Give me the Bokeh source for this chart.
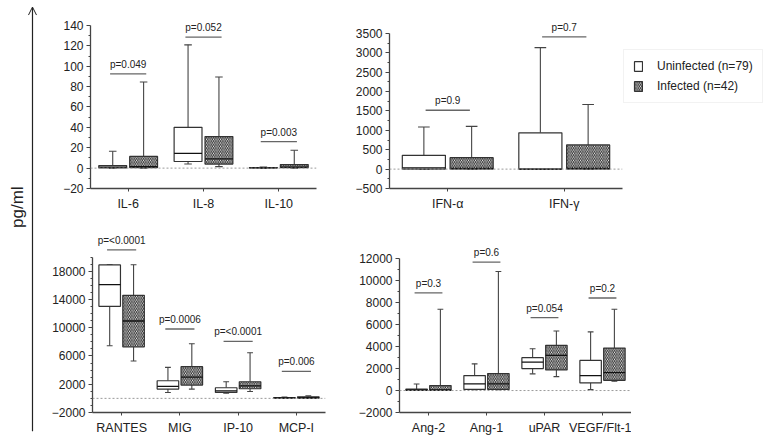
import numpy as np
from bokeh.plotting import figure
from bokeh.models import (FactorRange, FixedTicker, ColumnDataSource, Span, Legend,
                          LegendItem, Arrow, OpenHead, Label, Range1d)
from bokeh.transform import dodge
from bokeh.layouts import row, column
from bokeh.embed import file_html
from bokeh.resources import INLINE
from bokeh.core.properties import value

# ---------------- data (low whisker, Q1, median, Q3, high whisker) ----------------
tl_cats = ["IL-6", "IL-8", "IL-10"]
tl_un_low = [0, 4, 0]
tl_un_q1 = [0.3, 6.5, 0.1]
tl_un_med = [1, 14.5, 0.3]
tl_un_q3 = [2.5, 40, 0.6]
tl_un_high = [16.5, 121, 1]
tl_in_low = [0, 1.5, 0]
tl_in_q1 = [0.5, 4, 0.5]
tl_in_med = [1.5, 9, 1]
tl_in_q3 = [11.5, 31, 3.5]
tl_in_high = [84.5, 89.5, 17.5]
tl_p_labels = ["p=0.049", "p=0.052", "p=0.003"]
tl_p_y = [92.5, 128.5, 26]
tl_ticks = [-20, 0, 20, 40, 60, 80, 100, 120, 140]

tr_cats = ["IFN-\u03b1", "IFN-\u03b3"]
tr_un_low = [0, 0]
tr_un_q1 = [0, 0]
tr_un_med = [30, 0]
tr_un_q3 = [355, 937]
tr_un_high = [1085, 3134]
tr_in_low = [0, 0]
tr_in_q1 = [0, 0]
tr_in_med = [20, 20]
tr_in_q3 = [295, 625]
tr_in_high = [1102, 1667]
tr_p_labels = ["p=0.9", "p=0.7"]
tr_p_y = [1519, 3411]
tr_ticks = [-500, 0, 500, 1000, 1500, 2000, 2500, 3000, 3500]

bl_cats = ["RANTES", "MIG", "IP-10", "MCP-I"]
bl_un_low = [7450, 840, 740, 0]
bl_un_q1 = [13030, 1310, 840, 20]
bl_un_med = [16100, 1690, 1070, 60]
bl_un_q3 = [18890, 2490, 1500, 120]
bl_un_high = [18900, 4380, 2350, 200]
bl_in_low = [5280, 1310, 970, 0]
bl_in_q1 = [7300, 1880, 1360, 30]
bl_in_med = [10950, 3010, 1780, 90]
bl_in_q3 = [14590, 4480, 2350, 220]
bl_in_high = [18900, 7740, 6460, 350]
bl_p_labels = ["p=<0.0001", "p=0.0006", "p=<0.0001", "p=0.006"]
bl_p_y = [21020, 9820, 8070, 3820]
bl_ticks = [-2000, 2000, 6000, 10000, 14000, 18000]

br_cats = ["Ang-2", "Ang-1", "uPAR", "VEGF/Flt-1"]
br_un_low = [0, 80, 1520, 80]
br_un_q1 = [20, 100, 2000, 690]
br_un_med = [60, 600, 2590, 1360]
br_un_q3 = [140, 1360, 2990, 2740]
br_un_high = [600, 2430, 3810, 5340]
br_in_low = [0, 80, 1270, 840]
br_in_q1 = [20, 100, 1880, 930]
br_in_med = [60, 600, 3200, 1640]
br_in_q3 = [450, 1550, 4120, 3870]
br_in_high = [7410, 10840, 5430, 7410]
br_p_labels = ["p=0.3", "p=0.6", "p=0.054", "p=0.2"]
br_p_y = [8890, 11700, 6650, 8430]
br_ticks = [-2000, 0, 2000, 4000, 6000, 8000, 10000, 12000]

legend_labels = ["Uninfected (n=79)", "Infected (n=42)"]

# ---------------- styling ----------------
FONT = "Liberation Sans"
BOX_W = 0.37
OFF = 0.205
CAP = 0.05
EDGE = "#333333"
AX = "#444444"
HATCH = "\\"
HATCH_KW = dict(hatch_pattern=HATCH, hatch_color="#222222", hatch_scale=3.5,
                hatch_weight=1.0)


def style_axis(ax, size="12px"):
    ax.axis_line_color = AX
    ax.axis_line_width = 1.3
    ax.major_tick_line_color = AX
    ax.minor_tick_line_color = AX
    ax.major_tick_in = 0
    ax.major_tick_out = 4
    ax.minor_tick_in = 0
    ax.minor_tick_out = 2
    ax.major_label_text_font = FONT
    ax.major_label_text_font_size = size
    ax.major_label_text_color = "#222222"


def panel(cats, un, inf, plab, py, yr, bounds, ticks, minor, fw, fh,
          bl, br, bt, bb, ph):
    p = figure(x_range=FactorRange(*cats), y_range=Range1d(*yr),
               frame_width=fw, frame_height=fh,
               min_border_left=bl, min_border_right=br,
               min_border_top=bt, min_border_bottom=bb,
               output_backend="svg", toolbar_location=None,
               outline_line_color=None, background_fill_color="white",
               border_fill_color="white")
    p.xgrid.visible = False
    p.ygrid.visible = False
    p.add_layout(Span(location=0, dimension="width", line_color="#9a9a9a",
                      line_dash="2 2", line_width=1))
    xr = p.x_range
    boxes = []
    for stats, off, hkw in ((un, -OFF, {}), (inf, OFF, HATCH_KW)):
        src = ColumnDataSource(dict(cat=cats, low=stats[0], q1=stats[1],
                                    med=stats[2], q3=stats[3], high=stats[4]))
        xc = dodge("cat", off, range=xr)
        xa = dodge("cat", off - CAP, range=xr)
        xb = dodge("cat", off + CAP, range=xr)
        wkw = dict(source=src, line_color=AX, line_width=1.1)
        p.segment(x0=xc, x1=xc, y0="q3", y1="high", **wkw)
        p.segment(x0=xc, x1=xc, y0="low", y1="q1", **wkw)
        p.segment(x0=xa, x1=xb, y0="high", y1="high", **wkw)
        p.segment(x0=xa, x1=xb, y0="low", y1="low", **wkw)
        r = p.vbar(x=xc, width=BOX_W, bottom="q1", top="q3", source=src,
                   fill_color="white", line_color=EDGE, line_width=1.2, **hkw)
        boxes.append(r)
        p.segment(x0=dodge("cat", off - BOX_W / 2, range=xr),
                  x1=dodge("cat", off + BOX_W / 2, range=xr),
                  y0="med", y1="med", source=src, line_color="#111111",
                  line_width=1.3)
    ps = ColumnDataSource(dict(cat=cats, y=py, label=plab))
    p.segment(x0=dodge("cat", -ph, range=xr), x1=dodge("cat", ph, range=xr),
              y0="y", y1="y", source=ps, line_color="#666666", line_width=1.3)
    p.text(x="cat", y="y", text="label", source=ps, text_font=value(FONT),
           text_font_size="10px", text_align="center", text_baseline="bottom",
           y_offset=-4, text_color="#222222")
    yax = p.yaxis[0]
    yax.ticker = FixedTicker(ticks=ticks, minor_ticks=minor)
    yax.bounds = bounds
    style_axis(yax)
    xax = p.xaxis[0]
    style_axis(xax, "12.5px")
    xax.major_tick_out = 3
    xax.major_label_standoff = 5
    yax.major_label_standoff = 3
    return p, boxes


def stats(*a):
    return list(a)


tl, _ = panel(tl_cats,
              stats(tl_un_low, tl_un_q1, tl_un_med, tl_un_q3, tl_un_high),
              stats(tl_in_low, tl_in_q1, tl_in_med, tl_in_q3, tl_in_high),
              tl_p_labels, tl_p_y, (-20, 149.8), (-20, 140), tl_ticks,
              list(range(-10, 140, 20)), 226, 173, 52, 19, 15, 24, 0.24)
tr, tr_boxes = panel(tr_cats,
                     stats(tr_un_low, tr_un_q1, tr_un_med, tr_un_q3, tr_un_high),
                     stats(tr_in_low, tr_in_q1, tr_in_med, tr_in_q3, tr_in_high),
                     tr_p_labels, tr_p_y, (-500, 3964), (-500, 3500), tr_ticks,
                     list(range(-250, 3500, 250)), 233, 173, 54, 0, 15, 24, 0.19)
bl, _ = panel(bl_cats,
              stats(bl_un_low, bl_un_q1, bl_un_med, bl_un_q3, bl_un_high),
              stats(bl_in_low, bl_in_q1, bl_in_med, bl_in_q3, bl_in_high),
              bl_p_labels, bl_p_y, (-2000, 24890), (-2000, 20000), bl_ticks,
              list(range(-1000, 20001, 1000)), 233, 190, 54, 30, 9, 24, 0.25)
br, _ = panel(br_cats,
              stats(br_un_low, br_un_q1, br_un_med, br_un_q3, br_un_high),
              stats(br_in_low, br_in_q1, br_in_med, br_in_q3, br_in_high),
              br_p_labels, br_p_y, (-2000, 15307), (-2000, 12000), br_ticks,
              list(range(-1000, 12000, 2000)), 232, 190, 42, 0, 9, 24, 0.24)

leg = Legend(items=[LegendItem(label=legend_labels[0], renderers=[tr_boxes[0]]),
                    LegendItem(label=legend_labels[1], renderers=[tr_boxes[1]])],
             location=(1, 85), border_line_color="#e6e6e6",
             background_fill_color="white", label_text_font=FONT,
             label_text_font_size="12px", label_text_color="#222222",
             glyph_width=10, glyph_height=12, label_standoff=14, padding=9,
             spacing=6, label_height=12, margin=0)
tr.add_layout(leg, "right")

# left strip: arrow + axis title
strip = figure(x_range=Range1d(0, 1), y_range=Range1d(0, 1), frame_width=38,
               frame_height=436, min_border=0, x_axis_type=None,
               y_axis_type=None, output_backend="svg", toolbar_location=None,
               outline_line_color=None)
strip.grid.visible = False
strip.add_layout(Arrow(end=OpenHead(size=8, line_width=1, line_color="#222222"),
                       x_start=0.842, y_start=0.012, x_end=0.842, y_end=0.985,
                       line_width=1.2, line_color="#222222"))
strip.add_layout(Label(x=0.447, y=0.526, text="pg/ml", angle=np.pi / 2,
                       text_align="center", text_baseline="middle",
                       text_font=FONT, text_font_size="17px",
                       text_color="#222222"))

layout = row(strip, column(row(tl, tr), row(bl, br)))

open("out.html", "w").write(file_html(layout, INLINE))
